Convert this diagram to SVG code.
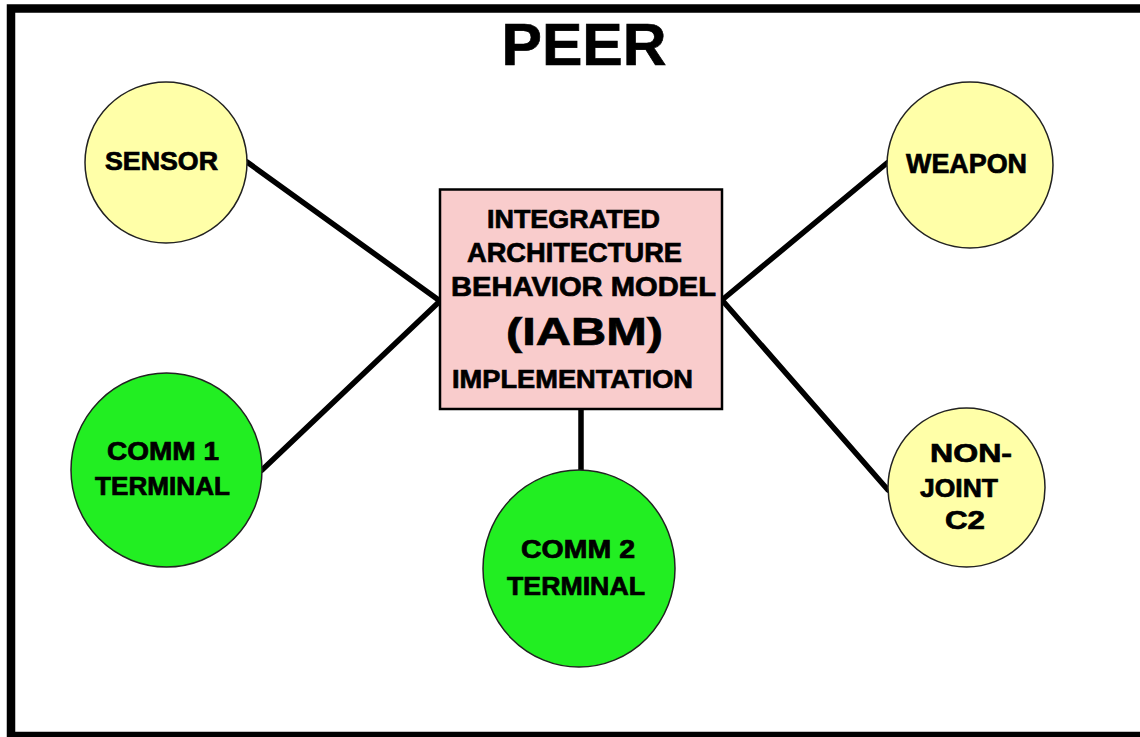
<svg xmlns="http://www.w3.org/2000/svg" width="1140" height="737" viewBox="0 0 1140 737">
<style>
.t{font-family:"Liberation Sans",Arial,sans-serif;font-weight:bold;fill:#000;stroke:#000;stroke-width:0.7}
.y{fill:#FFFFA8;stroke:#222;stroke-width:1.5}
.g{fill:#22EE22;stroke:#222;stroke-width:1.5}
.c{stroke:#000;stroke-width:5.5;fill:none;stroke-linecap:round}
</style>
<rect x="0" y="0" width="1140" height="737" fill="#fff"/>
<rect x="11" y="8.5" width="1150" height="727.5" fill="none" stroke="#000" stroke-width="8.5"/>
<text class="t" x="584" y="65" font-size="60" text-anchor="middle" textLength="165" lengthAdjust="spacingAndGlyphs">PEER</text>
<g id="connectors">
<line class="c" x1="247" y1="162" x2="440" y2="301"/>
<line class="c" x1="262" y1="470" x2="440" y2="301"/>
<line class="c" x1="887" y1="163" x2="722" y2="300"/>
<line class="c" x1="888" y1="490" x2="722" y2="300"/>
<line class="c" x1="581" y1="409" x2="581" y2="470"/>
</g>
<g id="iabm">
<rect x="440" y="189.5" width="282" height="219.5" fill="#F9CCCC" stroke="#000" stroke-width="2.5"/>
<text class="t" x="487" y="228" font-size="26" textLength="173" lengthAdjust="spacingAndGlyphs">INTEGRATED</text>
<text class="t" x="467" y="262" font-size="27" textLength="215" lengthAdjust="spacingAndGlyphs">ARCHITECTURE</text>
<text class="t" x="451" y="296" font-size="27" textLength="265" lengthAdjust="spacingAndGlyphs">BEHAVIOR MODEL</text>
<text class="t" x="506" y="345" font-size="39" textLength="157" lengthAdjust="spacingAndGlyphs">(IABM)</text>
<text class="t" x="452" y="388" font-size="26" textLength="241" lengthAdjust="spacingAndGlyphs">IMPLEMENTATION</text>
</g>
<g id="sensor">
<ellipse class="y" cx="166" cy="162.5" rx="81" ry="80.5"/>
<text class="t" x="105" y="170" font-size="25" textLength="113" lengthAdjust="spacingAndGlyphs">SENSOR</text>
</g>
<g id="weapon">
<ellipse class="y" cx="970" cy="165" rx="83" ry="83"/>
<text class="t" x="906" y="173" font-size="27" textLength="121" lengthAdjust="spacingAndGlyphs">WEAPON</text>
</g>
<g id="comm1">
<ellipse class="g" cx="166.5" cy="470" rx="95.5" ry="97"/>
<text class="t" x="107" y="460" font-size="25" textLength="112" lengthAdjust="spacingAndGlyphs">COMM 1</text>
<text class="t" x="95" y="495" font-size="25" textLength="135" lengthAdjust="spacingAndGlyphs">TERMINAL</text>
</g>
<g id="comm2">
<ellipse class="g" cx="579" cy="568.5" rx="96" ry="98.5"/>
<text class="t" x="521" y="558" font-size="25" textLength="114" lengthAdjust="spacingAndGlyphs">COMM 2</text>
<text class="t" x="507" y="595" font-size="25" textLength="138" lengthAdjust="spacingAndGlyphs">TERMINAL</text>
</g>
<g id="nonjoint">
<ellipse class="y" cx="966.5" cy="487.5" rx="78.5" ry="79.5"/>
<text class="t" x="930" y="462" font-size="25" textLength="82" lengthAdjust="spacingAndGlyphs">NON-</text>
<text class="t" x="920" y="497" font-size="25" textLength="78" lengthAdjust="spacingAndGlyphs">JOINT</text>
<text class="t" x="945" y="529" font-size="25" textLength="40" lengthAdjust="spacingAndGlyphs">C2</text>
</g>
</svg>
